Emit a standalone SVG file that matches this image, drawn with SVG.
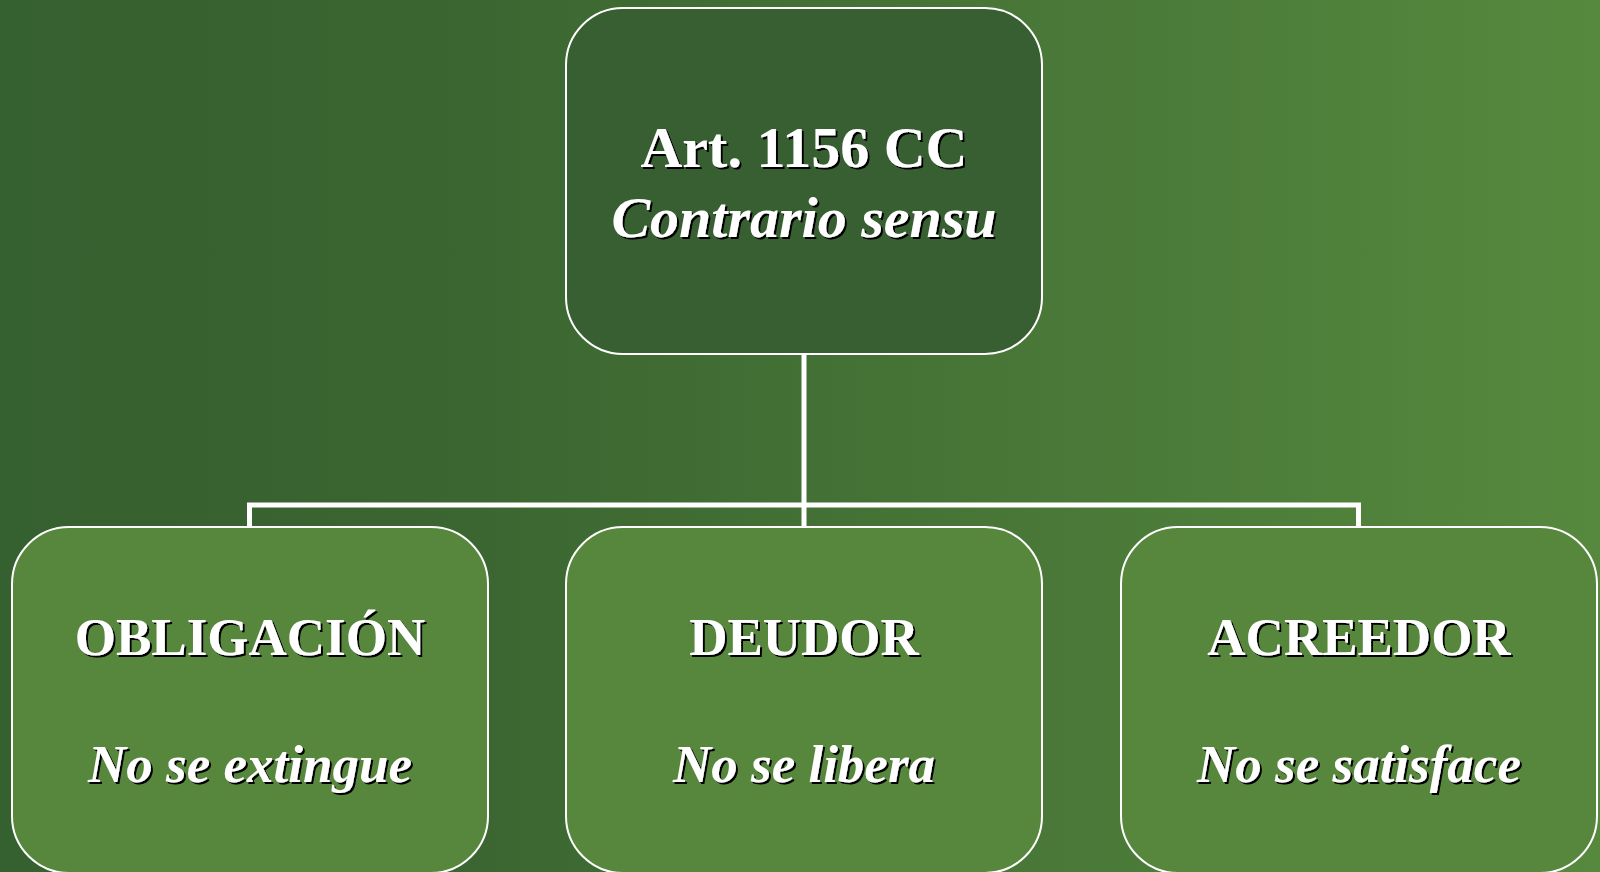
<svg xmlns="http://www.w3.org/2000/svg" width="1600" height="872" viewBox="0 0 1600 872">
<style>
.box{stroke:#ffffff;stroke-width:2}
.top{fill:#385f32}
.low{fill:#56873d}
.t{font-family:"Liberation Serif","Times New Roman",serif;font-weight:bold;fill:#ffffff;text-anchor:middle;filter:url(#sh)}
.i{font-style:italic}
.conn{fill:none;stroke:#ffffff;stroke-width:5}
</style>
<defs>
<linearGradient id="bg" x1="0" y1="0" x2="1" y2="0">
<stop offset="0" stop-color="#35602f"/>
<stop offset="0.3" stop-color="#3b6631"/>
<stop offset="1" stop-color="#56893e"/>
</linearGradient>
<filter id="sh" x="-10%" y="-20%" width="120%" height="150%">
<feDropShadow dx="2" dy="2" stdDeviation="0.3" flood-color="#000000" flood-opacity="1"/>
</filter>
</defs>
<rect x="0" y="0" width="1600" height="872" fill="url(#bg)"/>
<g id="connectors">
<path class="conn" d="M804 354 V505 M249.5 527 V505 H1358.5 V527 M804 505 V527"/>
</g>
<g id="node-top">
<rect class="box top" x="566" y="8" width="476" height="346" rx="57" ry="57"/>
<text class="t" x="804" y="167" font-size="58">Art. 1156 CC</text>
<text class="t i" x="804" y="237" font-size="58">Contrario sensu</text>
</g>
<g id="node-obligacion">
<rect class="box low" x="12" y="527" width="476" height="346" rx="57" ry="57"/>
<text class="t" x="250" y="655" font-size="53">OBLIGACIÓN</text>
<text class="t i" x="250" y="782" font-size="53">No se extingue</text>
</g>
<g id="node-deudor">
<rect class="box low" x="566" y="527" width="476" height="346" rx="57" ry="57"/>
<text class="t" x="804" y="655" font-size="53">DEUDOR</text>
<text class="t i" x="804" y="782" font-size="53">No se libera</text>
</g>
<g id="node-acreedor">
<rect class="box low" x="1121" y="527" width="476" height="346" rx="57" ry="57"/>
<text class="t" x="1359" y="655" font-size="53">ACREEDOR</text>
<text class="t i" x="1359" y="782" font-size="53">No se satisface</text>
</g>
</svg>
